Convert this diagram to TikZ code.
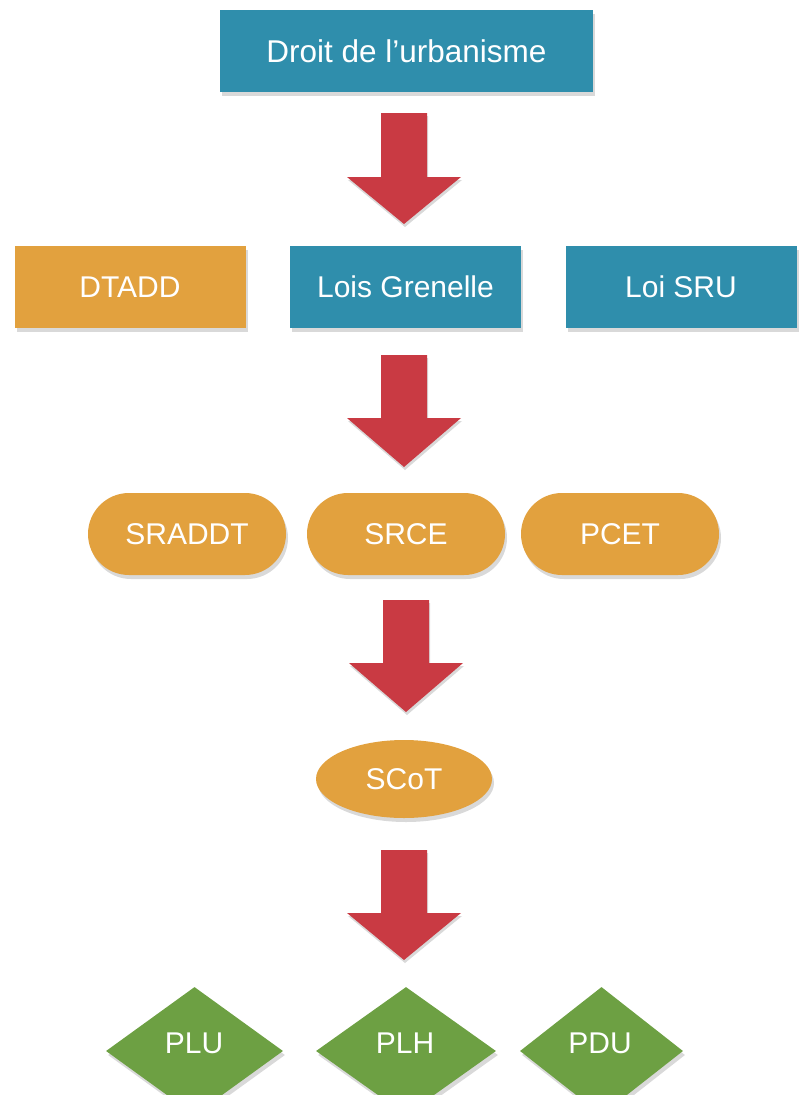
\documentclass[tikz,border=0pt]{standalone}
\usepackage{fontspec}
\setmainfont{Liberation Sans}
\usetikzlibrary{shapes.geometric,shadows}
\definecolor{cblue}{HTML}{2F8EAC}
\definecolor{corange}{HTML}{E2A13E}
\definecolor{cred}{HTML}{C93A43}
\definecolor{cgreen}{HTML}{6DA043}
\tikzset{
  base/.style={text=white, font=\fontsize{30}{36}\selectfont, inner sep=0pt,
    drop shadow={opacity=0.3, shadow xshift=2pt, shadow yshift=-4pt}},
  bluebox/.style={base, fill=cblue, rectangle, minimum width=231pt, minimum height=82pt},
  orangebox/.style={base, fill=corange, rectangle, minimum width=231pt, minimum height=82pt},
  pill/.style={base, fill=corange, rectangle, rounded corners=41pt, minimum width=198pt, minimum height=82pt},
  oval/.style={base, fill=corange, ellipse, minimum width=176pt, minimum height=78pt},
  rhomb/.style={base, fill=cgreen, diamond, minimum width=177pt, minimum height=128pt},
  rhombtext/.style={text=white, font=\fontsize{30}{36}\selectfont},
  blockarrow/.style={fill=cred, drop shadow={opacity=0.3, shadow xshift=1pt, shadow yshift=-3pt}}
}
\newcommand\bigarrow[4]{% x center, y top, y head, y tip
  \fill[blockarrow] (#1-23,#2) -- (#1+23,#2) -- (#1+23,#3) -- (#1+57,#3) -- (#1,#4)
    -- (#1-57,#3) -- (#1-23,#3) -- cycle;}
\begin{document}
\begin{tikzpicture}[x=1pt,y=-1pt]
\useasboundingbox (0,0) rectangle (800,1095);
\clip (0,0) rectangle (800,1095);
\node[bluebox, minimum width=373pt, font=\fontsize{31.5}{36}\selectfont] (droit) at (406.5,51) {Droit de l’urbanisme};
\node[orangebox] (dtadd) at (130,287) {DTADD};
\node[bluebox] (grenelle) at (405.5,287) {Lois Grenelle};
\node[bluebox] (sru) at (681,287) {Loi SRU};
\node[pill] (sraddt) at (187,534) {SRADDT};
\node[pill] (srce) at (406,534) {SRCE};
\node[pill] (pcet) at (620,534) {PCET};
\node[oval] (scot) at (404,779) {SCoT};
\node[rhomb] (plu) at (194.5,1051) {};
\node[rhomb, minimum width=180pt] (plh) at (406,1051) {};
\node[rhomb, minimum width=163pt] (pdu) at (601.5,1051) {};
\node[rhombtext] (plut) at (194,1043) {PLU};
\node[rhombtext] (plht) at (405,1043) {PLH};
\node[rhombtext] (pdut) at (600,1043) {PDU};
\bigarrow{404}{113}{177}{224}
\bigarrow{404}{355}{418}{467}
\bigarrow{406}{600}{663}{712}
\bigarrow{404}{850}{913}{960}
\end{tikzpicture}
\end{document}
